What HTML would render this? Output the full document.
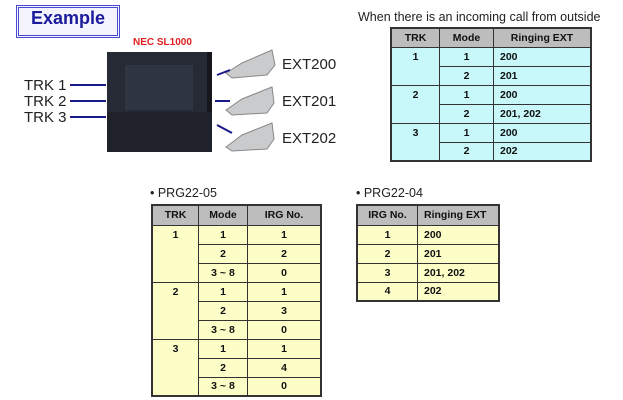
<!DOCTYPE html>
<html><head><style>
body{margin:0;width:623px;height:400px;background:#fff;position:relative;overflow:hidden;font-family:"Liberation Sans",Arial,sans-serif}
.a{position:absolute}
table{position:absolute;border-collapse:collapse;font-weight:bold;font-size:10.5px;color:#111;table-layout:fixed}
td,th{border:1px solid #333;padding:0 0 0 6px;text-align:left;white-space:nowrap;overflow:hidden}
th{background:#bdbdbd;text-align:center;padding:0}
table{border:2px solid #333}
.c{text-align:center;padding:0}
.cy td{background:#c8f8fa}
.yl td{background:#fdfdc8}
.lbl{font-size:15px;color:#222}
</style></head><body>
<div class="a" style="left:16px;top:5px;width:98px;height:27px;border:3px double #4a4ad0;background:#f4f4ff"></div>
<div class="a" style="left:31px;top:8px;font-size:18px;font-weight:bold;color:#1a1a9a">Example</div>
<div class="a" style="left:133px;top:37px;font-size:10px;font-weight:bold;color:#e02020">NEC SL1000</div>
<div class="a" style="left:107px;top:52px;width:100px;height:100px;background:#262a35;border-right:5px solid #15171d"></div>
<div class="a" style="left:125px;top:65px;width:68px;height:45px;background:#303542"></div>
<div class="a" style="left:107px;top:112px;width:105px;height:40px;background:#1f222a"></div>
<div class="a lbl" style="left:24px;top:77px">TRK 1</div>
<div class="a lbl" style="left:24px;top:93px">TRK 2</div>
<div class="a lbl" style="left:24px;top:109px">TRK 3</div>
<div class="a" style="left:70px;top:84px;width:36px;height:2px;background:#1a1a8a"></div>
<div class="a" style="left:70px;top:100px;width:36px;height:2px;background:#1a1a8a"></div>
<div class="a" style="left:70px;top:116px;width:36px;height:2px;background:#1a1a8a"></div>
<svg class="a" style="left:212px;top:45px" width="70" height="110">
<g fill="#c9cbcd" stroke="#888" stroke-width="1">
<path d="M14 28 L30 18 L60 5 L63 20 L55 30 L20 33Z"/>
<path d="M14 65 L30 54 L60 42 L62 58 L55 68 L20 70Z"/>
<path d="M14 102 L30 90 L60 78 L62 94 L55 104 L20 106Z"/>
</g>
<g stroke="#1a1a8a" stroke-width="2"><line x1="5" y1="30" x2="18" y2="25"/><line x1="3" y1="56" x2="18" y2="56"/><line x1="5" y1="80" x2="20" y2="88"/></g>
</svg>
<div class="a lbl" style="left:282px;top:56px">EXT200</div>
<div class="a lbl" style="left:282px;top:93px">EXT201</div>
<div class="a lbl" style="left:282px;top:130px">EXT202</div>
<div class="a" style="left:358px;top:10px;font-size:12.5px;color:#222">When there is an incoming call from outside</div>
<table class="cy" style="left:390px;top:27px;width:202px">
<tr style="height:19px"><th style="width:47px">TRK</th><th style="width:53px">Mode</th><th>Ringing EXT</th></tr>
<tr style="height:19px"><td class="c" rowspan="2" style="vertical-align:top;padding-top:3px">1</td><td class="c">1</td><td>200</td></tr>
<tr style="height:19px"><td class="c">2</td><td>201</td></tr>
<tr style="height:19px"><td class="c" rowspan="2" style="vertical-align:top;padding-top:3px">2</td><td class="c">1</td><td>200</td></tr>
<tr style="height:19px"><td class="c">2</td><td>201, 202</td></tr>
<tr style="height:19px"><td class="c" rowspan="2" style="vertical-align:top;padding-top:3px">3</td><td class="c">1</td><td>200</td></tr>
<tr style="height:19px"><td class="c">2</td><td>202</td></tr>
</table>
<div class="a" style="left:150px;top:186px;font-size:12.5px;color:#222">• PRG22-05</div>
<div class="a" style="left:356px;top:186px;font-size:12.5px;color:#222">• PRG22-04</div>
<table class="yl" style="left:151px;top:204px;width:171px">
<tr style="height:20px"><th style="width:45px">TRK</th><th style="width:48px">Mode</th><th>IRG No.</th></tr>
<tr style="height:19px"><td class="c" rowspan="3" style="vertical-align:top;padding-top:3px">1</td><td class="c">1</td><td class="c">1</td></tr>
<tr style="height:19px"><td class="c">2</td><td class="c">2</td></tr>
<tr style="height:19px"><td class="c">3 ~ 8</td><td class="c">0</td></tr>
<tr style="height:19px"><td class="c" rowspan="3" style="vertical-align:top;padding-top:3px">2</td><td class="c">1</td><td class="c">1</td></tr>
<tr style="height:19px"><td class="c">2</td><td class="c">3</td></tr>
<tr style="height:19px"><td class="c">3 ~ 8</td><td class="c">0</td></tr>
<tr style="height:19px"><td class="c" rowspan="3" style="vertical-align:top;padding-top:3px">3</td><td class="c">1</td><td class="c">1</td></tr>
<tr style="height:19px"><td class="c">2</td><td class="c">4</td></tr>
<tr style="height:19px"><td class="c">3 ~ 8</td><td class="c">0</td></tr>
</table>
<table class="yl" style="left:356px;top:204px;width:144px">
<tr style="height:20px"><th style="width:59px">IRG No.</th><th style="text-align:left;padding-left:6px">Ringing EXT</th></tr>
<tr style="height:19px"><td class="c">1</td><td>200</td></tr>
<tr style="height:19px"><td class="c">2</td><td>201</td></tr>
<tr style="height:19px"><td class="c">3</td><td>201, 202</td></tr>
<tr style="height:19px"><td class="c">4</td><td>202</td></tr>
</table>
</body></html>
